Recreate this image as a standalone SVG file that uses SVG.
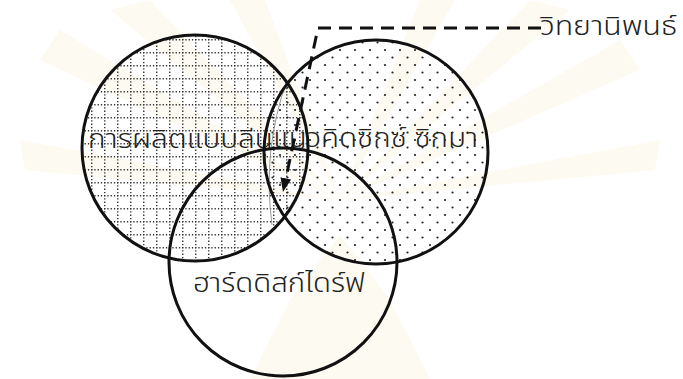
<svg xmlns="http://www.w3.org/2000/svg" width="683" height="379" viewBox="0 0 683 379">
  <style>
    .ring { fill: none; stroke: #111; stroke-width: 3; }
    .lbl { font-family: 'Noto Sans Thai', 'Noto Sans Thai Looped', 'Noto Sans', 'DejaVu Sans', sans-serif; font-size: 27px; font-weight: 300; fill: #222; }
    .conn { fill: none; stroke: #111; stroke-width: 3; stroke-dasharray: 13 8; }
    .ray { fill: #fdfaf1; }
  </style>
  <defs>
    <pattern id="grid" patternUnits="userSpaceOnUse" width="13" height="13">
      <line x1="0.75" y1="0" x2="0.75" y2="13" stroke="#333" stroke-width="1.4" stroke-dasharray="1.3 2"/>
      <line x1="0" y1="0.75" x2="13" y2="0.75" stroke="#333" stroke-width="1.4" stroke-dasharray="1.3 2"/>
    </pattern>
    <pattern id="dots" patternUnits="userSpaceOnUse" width="15" height="15">
      <circle cx="10" cy="5" r="1.1" fill="#222"/>
      <circle cx="2.5" cy="12.5" r="1.1" fill="#222"/>
    </pattern>
    <marker id="arrow" markerUnits="userSpaceOnUse" markerWidth="14" markerHeight="11" refX="0" refY="5.5" orient="auto">
      <path d="M0,0 L14,5.5 L0,11 z" fill="#111"/>
    </marker>
  </defs>
  <rect width="683" height="379" fill="#ffffff"/>

  <g id="watermark">
    <path class="ray" d="M340,200 L40,60 L60,30 z"/>
    <path class="ray" d="M340,200 L110,10 L150,0 z"/>
    <path class="ray" d="M340,200 L230,0 L265,0 z"/>
    <path class="ray" d="M340,200 L420,0 L455,0 z"/>
    <path class="ray" d="M340,200 L530,0 L570,10 z"/>
    <path class="ray" d="M340,200 L620,40 L640,70 z"/>
    <path class="ray" d="M340,200 L20,140 L25,170 z"/>
    <path class="ray" d="M340,200 L660,140 L655,170 z"/>
    <path class="ray" d="M250,379 L290,300 L340,235 L390,300 L430,379 z"/>
  </g>

  <g id="fills">
    <circle cx="195" cy="148" r="113" fill="url(#grid)"/>
    <circle cx="376" cy="152" r="112" fill="url(#dots)"/>
    <path d="M287,80 Q262,150 272,225" fill="none" stroke="#999" stroke-width="1"/>
  </g>

  <g id="node-lean">
    <circle class="ring" cx="195" cy="148" r="113"/>
    <text class="lbl" x="88" y="148" textLength="185" lengthAdjust="spacingAndGlyphs">การผลิตแบบลีน</text>
  </g>
  <g id="node-sixsigma">
    <circle class="ring" cx="376" cy="152" r="112"/>
    <text class="lbl" x="273" y="147" textLength="205" lengthAdjust="spacingAndGlyphs">แนวคิดซิกซ์ ซิกมา</text>
  </g>
  <g id="node-hdd">
    <circle class="ring" cx="283" cy="262" r="114"/>
    <text class="lbl" x="193" y="292" textLength="172" lengthAdjust="spacingAndGlyphs">ฮาร์ดดิสก์ไดร์ฟ</text>
  </g>
  <g id="node-thesis">
    <text class="lbl" x="540" y="35" textLength="137" lengthAdjust="spacingAndGlyphs">วิทยานิพนธ์</text>
  </g>

  <g id="connectors">
    <path class="conn" d="M541,28 H318 L285.9,178.3" marker-end="url(#arrow)"/>
  </g>
</svg>
